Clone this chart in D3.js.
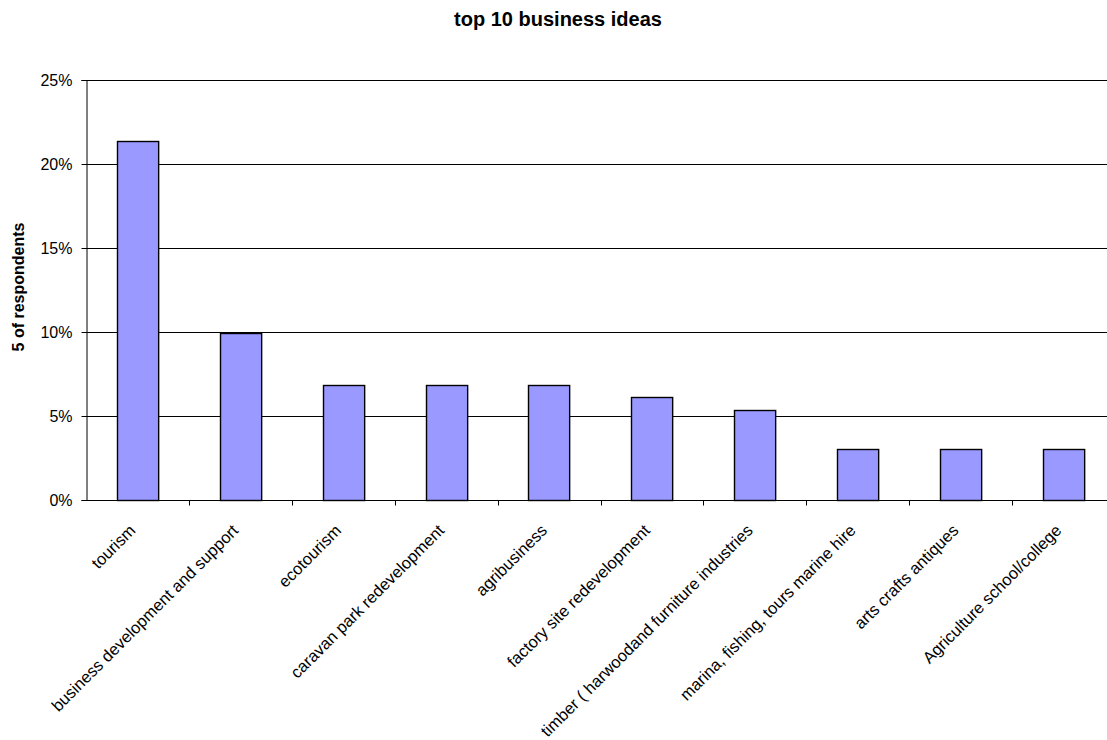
<!DOCTYPE html>
<html>
<head>
<meta charset="utf-8">
<script src="https://cdn.jsdelivr.net/npm/d3@7"></script>
<style>
  html, body { margin: 0; padding: 0; background: #fff; }
  svg { display: block; font-family: "Liberation Sans", Arial, sans-serif; }
</style>
</head>
<body>
<svg id="chart" width="1107" height="740"></svg>
<script>
// Survey results: share of respondents naming each business idea
const categories = [
  "tourism",
  "business development and support",
  "ecotourism",
  "caravan park redevelopment",
  "agribusiness",
  "factory site redevelopment",
  "timber ( harwoodand furniture industries",
  "marina, fishing, tours marine hire",
  "arts crafts antiques",
  "Agriculture school/college"
];
const shares = [0.2137, 0.0992, 0.0687, 0.0687, 0.0687, 0.0611, 0.0534, 0.0305, 0.0305, 0.0305];
const yTicks = [0, 0.05, 0.10, 0.15, 0.20, 0.25];

const svg = d3.select("#chart");
const plot = { left: 86, right: 1115, top: 80, bottom: 500 };

const x = d3.scaleBand().domain(categories).range([plot.left, plot.right]).paddingInner(0.6).paddingOuter(0.3);
const xTick = d3.scaleBand().domain(categories).range([plot.left, plot.right]);
const y = d3.scaleLinear().domain([0, 0.25]).range([plot.bottom, plot.top]);

// Title
svg.append("text")
  .attr("x", 558).attr("y", 26)
  .attr("text-anchor", "middle")
  .style("font-weight", "bold").style("font-size", "20px")
  .text("top 10 business ideas");

// Y axis title
svg.append("text")
  .attr("transform", "translate(24,287) rotate(-90)")
  .attr("text-anchor", "middle")
  .style("font-weight", "bold").style("font-size", "16px")
  .text("5 of respondents");

// Horizontal gridlines
svg.append("g")
  .selectAll("line")
  .data(yTicks.filter(d => d > 0))
  .join("line")
  .attr("x1", plot.left).attr("x2", plot.right)
  .attr("y1", d => Math.round(y(d)) + 0.5).attr("y2", d => Math.round(y(d)) + 0.5)
  .attr("stroke", "#000").attr("stroke-width", 1);

// Bars
svg.append("g")
  .selectAll("rect")
  .data(categories.map((c, i) => ({ c, v: shares[i] })))
  .join("rect")
  .attr("x", d => Math.round(x(d.c)) + 0.5)
  .attr("y", d => Math.round(y(d.v)) + 0.5)
  .attr("width", x.bandwidth())
  .attr("height", d => Math.round(y(0)) - Math.round(y(d.v)))
  .attr("fill", "#9999FF")
  .attr("stroke", "#000").attr("stroke-width", 1.4);

// Y axis
const yAxis = svg.append("g")
  .attr("transform", `translate(${plot.left + 0.5},0)`)
  .call(d3.axisLeft(y).tickValues(yTicks).tickFormat(d3.format(".0%")).tickSizeOuter(0).tickSize(5).tickPadding(9));
yAxis.select(".domain").attr("stroke", "#000");
yAxis.selectAll("text").style("font-size", "16px").attr("fill", "#000");

// X axis with ticks between categories
const xAxisG = svg.append("g").attr("transform", `translate(0,${Math.round(y(0)) + 0.5})`);
xAxisG.append("line")
  .attr("x1", plot.left).attr("x2", plot.right)
  .attr("stroke", "#000");
xAxisG.selectAll("line.tick")
  .data(categories.slice(1))
  .join("line")
  .attr("class", "tick")
  .attr("x1", d => Math.round(xTick(d)) + 0.5).attr("x2", d => Math.round(xTick(d)) + 0.5)
  .attr("y1", 0).attr("y2", 5)
  .attr("stroke", "#000");

// Rotated category labels
xAxisG.selectAll("text")
  .data(categories)
  .join("text")
  .attr("transform", d => `translate(${xTick(d) + xTick.bandwidth() / 2 - 1},31) rotate(-45)`)
  .attr("text-anchor", "end")
  .style("font-size", "16.5px")
  .text(d => d);
</script>
</body>
</html>
